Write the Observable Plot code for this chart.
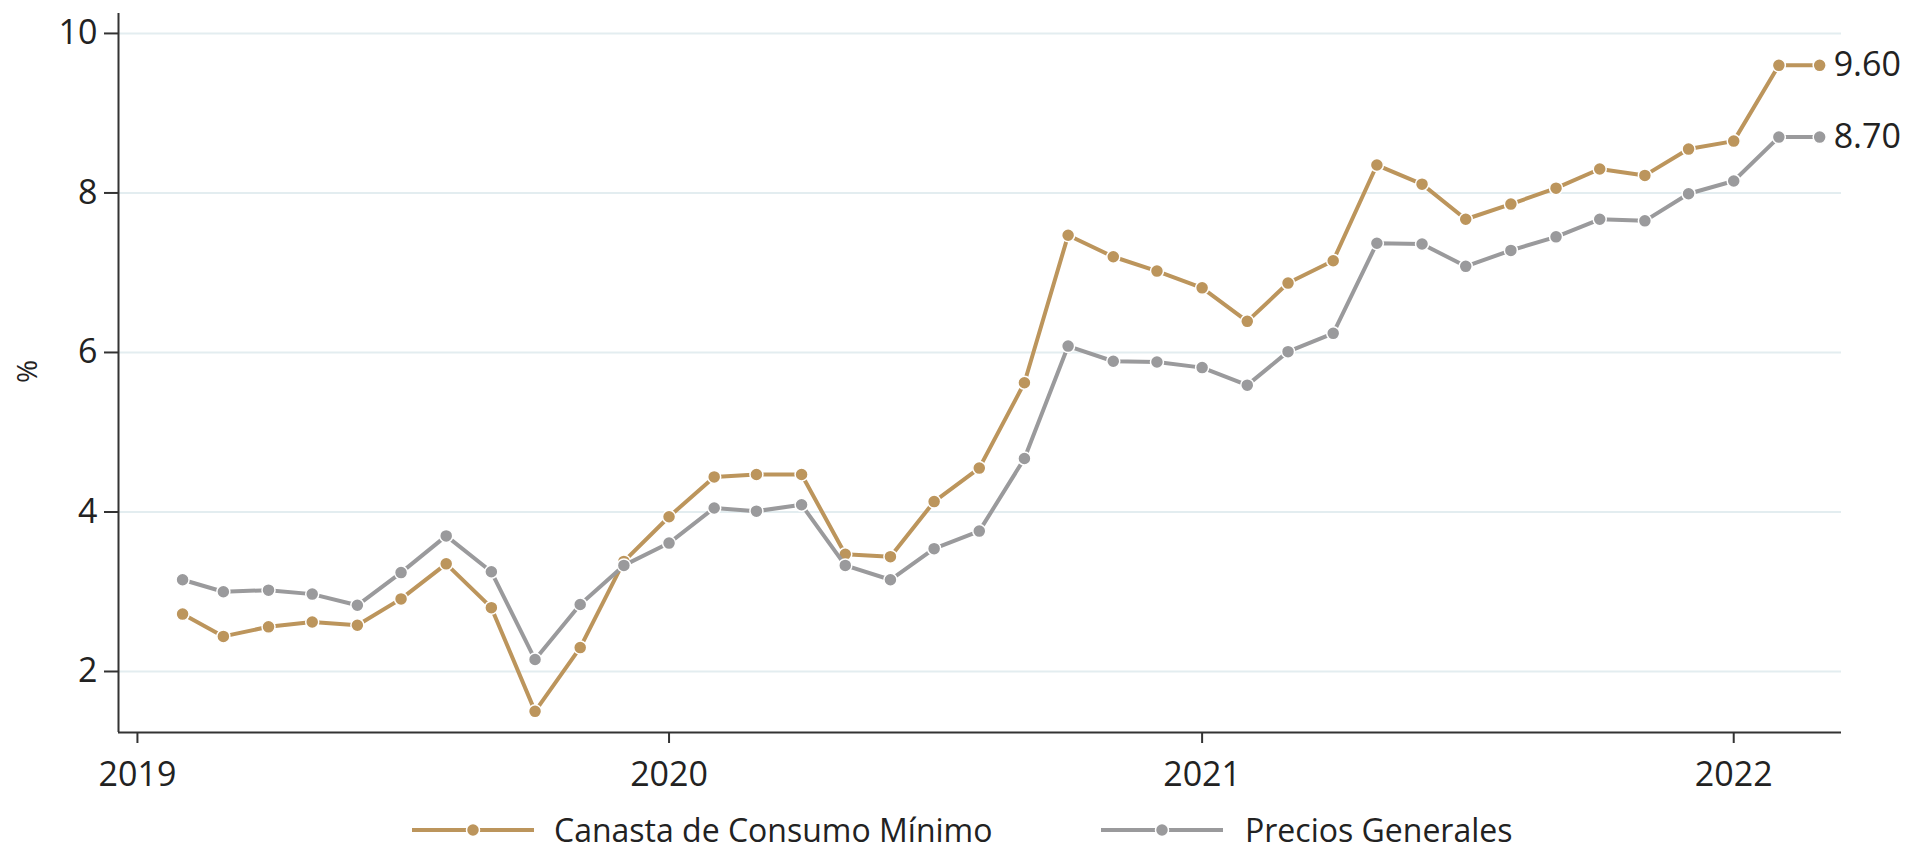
<!DOCTYPE html>
<html>
<head>
<meta charset="utf-8">
<script src="https://cdn.jsdelivr.net/npm/d3@7"></script>
<script src="https://cdn.jsdelivr.net/npm/@observablehq/plot@0.6"></script>
<style>
  html, body { margin: 0; padding: 0; background: #fff; }
  body { font-family: "Open Sans", sans-serif; color: #222; }
  #wrap { position: relative; width: 1916px; height: 853px; overflow: hidden; background: #fff; }
  #chart { position: absolute; left: 0; top: 0; }
  .sw { position: absolute; }
  .lt { position: absolute; font-size: 32px; line-height: 30px; height: 30px; white-space: nowrap; color: #222; }
</style>
</head>
<body>
<div id="wrap">
  <div id="chart"></div>
</div>
<script>
// ---- Data ----
const months = [
  "2019-02","2019-03","2019-04","2019-05","2019-06","2019-07","2019-08","2019-09","2019-10","2019-11","2019-12",
  "2020-01","2020-02","2020-03","2020-04","2020-05","2020-06","2020-07","2020-08","2020-09","2020-10","2020-11","2020-12",
  "2021-01","2021-02","2021-03","2021-04","2021-05","2021-06","2021-07","2021-08","2021-09","2021-10","2021-11","2021-12",
  "2022-01","2022-02","2022-03"
];
const seriesNames = ["Canasta de Consumo Mínimo", "Precios Generales"];
const canasta = [
  2.72, 2.44, 2.56, 2.62, 2.58, 2.91, 3.35, 2.80, 1.50, 2.30, 3.38,
  3.94, 4.44, 4.47, 4.47, 3.47, 3.44, 4.13, 4.55, 5.62, 7.47, 7.20, 7.02,
  6.81, 6.39, 6.87, 7.15, 8.35, 8.11, 7.67, 7.86, 8.06, 8.30, 8.22, 8.55,
  8.65, 9.60, 9.60
];
const precios = [
  3.15, 3.00, 3.02, 2.97, 2.83, 3.24, 3.70, 3.25, 2.15, 2.84, 3.33,
  3.61, 4.05, 4.01, 4.09, 3.33, 3.15, 3.54, 3.76, 4.67, 6.08, 5.89, 5.88,
  5.81, 5.59, 6.01, 6.24, 7.37, 7.36, 7.08, 7.28, 7.45, 7.67, 7.65, 7.99,
  8.15, 8.70, 8.70
];
const yTicks = [2, 4, 6, 8, 10];
const xTickLabels = ["2019", "2020", "2021", "2022"];
const colors = ["#BC955C", "#9A9A9C"];

// ---- Build table ----
const parse = s => new Date(s + "-01T00:00:00Z");
const rowsC = months.map((m, i) => ({ date: parse(m), value: canasta[i], serie: seriesNames[0] }));
const rowsP = months.map((m, i) => ({ date: parse(m), value: precios[i], serie: seriesNames[1] }));
const lastC = [rowsC[rowsC.length - 1]];
const lastP = [rowsP[rowsP.length - 1]];
const xTicks = xTickLabels.map(y => new Date(y + "-01-01T00:00:00Z"));

const x0 = new Date("2018-12-19T00:00:00Z");
const x1 = new Date("2022-03-16T00:00:00Z");
const yMin = 1.235, yMax = 10.25;

const chart = Plot.plot({
  width: 1916,
  height: 812,
  marginLeft: 118,
  marginRight: 75,
  marginTop: 13,
  marginBottom: 80,
  style: { fontFamily: "'Open Sans', sans-serif", fontSize: "34px", color: "#222", background: "#fff", overflow: "visible" },
  x: { type: "utc", domain: [x0, x1] },
  y: { domain: [yMin, yMax] },
  marks: [
    Plot.gridY(yTicks, { stroke: "#e3edf0", strokeOpacity: 1, strokeWidth: 2 }),
    Plot.ruleX([x0], { stroke: "#333", strokeWidth: 2 }),
    Plot.ruleY([yMin], { stroke: "#333", strokeWidth: 2 }),
    Plot.axisY(yTicks, { tickSize: 14, tickPadding: 7, stroke: "#333", strokeWidth: 2, fill: "#222", fontSize: 34, tickFormat: d => String(d), label: null }),
    Plot.axisX(xTicks, { tickSize: 11, tickPadding: 18, stroke: "#333", strokeWidth: 2, fill: "#222", fontSize: 34, tickFormat: d3.utcFormat("%Y"), label: null }),
    Plot.text(["%"], { frameAnchor: "left", dx: -90, dy: 10, rotate: -90, fontSize: 28, fill: "#222" }),
    Plot.line(rowsC, { x: "date", y: "value", stroke: colors[0], strokeWidth: 4 }),
    Plot.dot(rowsC, { x: "date", y: "value", fill: colors[0], r: 6.5, stroke: "#fff", strokeWidth: 1.5 }),
    Plot.line(rowsP, { x: "date", y: "value", stroke: colors[1], strokeWidth: 4 }),
    Plot.dot(rowsP, { x: "date", y: "value", fill: colors[1], r: 6.5, stroke: "#fff", strokeWidth: 1.5 }),
    Plot.text(lastC, { x: "date", y: "value", text: d => d.value.toFixed(2), dx: 14, textAnchor: "start", fontSize: 34, fill: "#222" }),
    Plot.text(lastP, { x: "date", y: "value", text: d => d.value.toFixed(2), dx: 14, textAnchor: "start", fontSize: 34, fill: "#222" })
  ]
});
document.getElementById("chart").appendChild(chart);

// ---- Legend (below the SVG) ----
const wrap = document.getElementById("wrap");
const legendY = 830;
const legendItems = [
  { name: seriesNames[0], color: colors[0], swLeft: 412, textLeft: 554 },
  { name: seriesNames[1], color: colors[1], swLeft: 1101, textLeft: 1245 }
];
legendItems.forEach(it => {
  const ns = "http://www.w3.org/2000/svg";
  const sw = document.createElementNS(ns, "svg");
  sw.setAttribute("width", 122);
  sw.setAttribute("height", 16);
  sw.setAttribute("class", "sw");
  sw.style.left = it.swLeft + "px";
  sw.style.top = (legendY - 8) + "px";
  const ln = document.createElementNS(ns, "line");
  ln.setAttribute("x1", 0); ln.setAttribute("x2", 122);
  ln.setAttribute("y1", 8); ln.setAttribute("y2", 8);
  ln.setAttribute("stroke", it.color); ln.setAttribute("stroke-width", 4);
  sw.appendChild(ln);
  const c = document.createElementNS(ns, "circle");
  c.setAttribute("cx", 61); c.setAttribute("cy", 8); c.setAttribute("r", 6.5);
  c.setAttribute("fill", it.color); c.setAttribute("stroke", "#fff"); c.setAttribute("stroke-width", 1.5);
  sw.appendChild(c);
  wrap.appendChild(sw);
  const t = document.createElement("div");
  t.className = "lt";
  t.textContent = it.name;
  t.style.left = it.textLeft + "px";
  t.style.top = (legendY - 15) + "px";
  wrap.appendChild(t);
});
</script>
</body>
</html>
